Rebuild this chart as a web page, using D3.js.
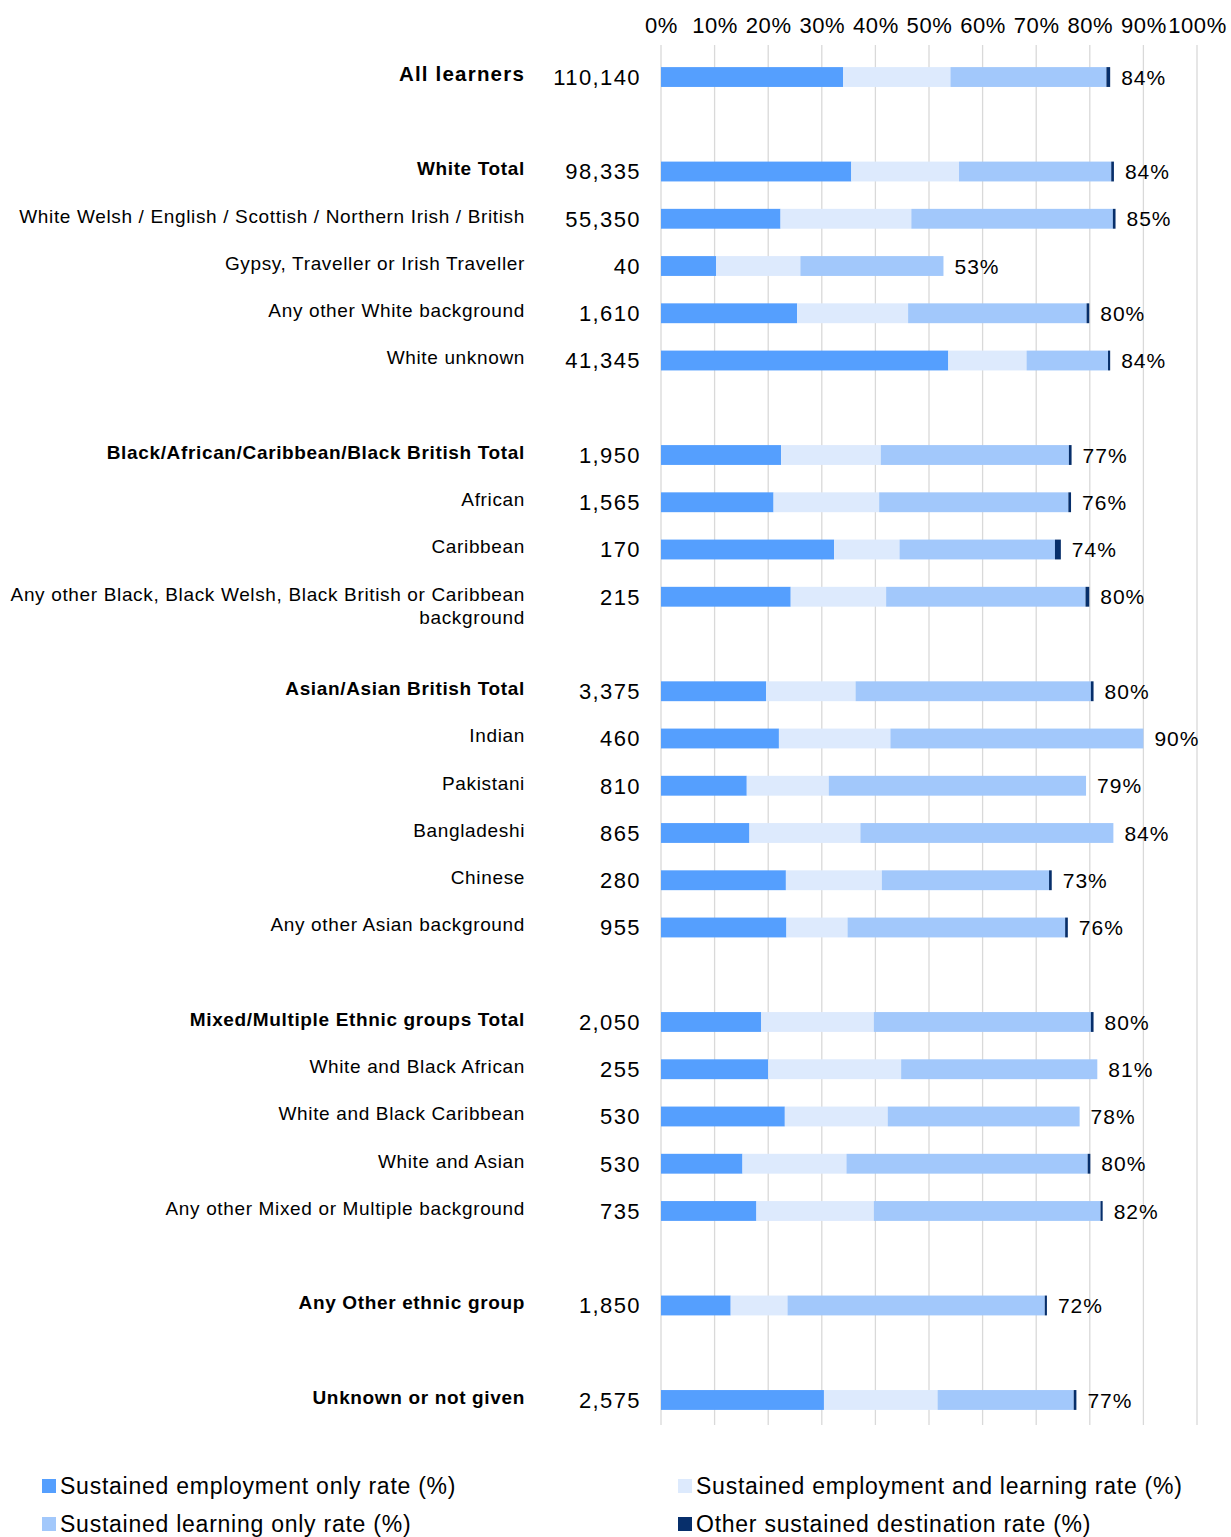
<!DOCTYPE html>
<html>
<head>
<meta charset="utf-8">
<script src="https://cdn.jsdelivr.net/npm/d3@7"></script>
<style>
  body { margin: 0; background: #fff; }
  text { font-family: "Liberation Sans", Arial, sans-serif; fill: #000; }
</style>
</head>
<body>
<div id="chart"></div>
<script>
// rows in order; blank strings are spacer rows
const categories = [
  'All learners', '',
  'White Total', 'White Welsh / English / Scottish / Northern Irish / British',
  'Gypsy, Traveller or Irish Traveller', 'Any other White background', 'White unknown', '',
  'Black/African/Caribbean/Black British Total', 'African', 'Caribbean',
  'Any other Black, Black Welsh, Black British or Caribbean background', '',
  'Asian/Asian British Total', 'Indian', 'Pakistani', 'Bangladeshi', 'Chinese',
  'Any other Asian background', '',
  'Mixed/Multiple Ethnic groups Total', 'White and Black African', 'White and Black Caribbean',
  'White and Asian', 'Any other Mixed or Multiple background', '',
  'Any Other ethnic group', '',
  'Unknown or not given',
];
const boldRows = ['All learners', 'White Total', 'Black/African/Caribbean/Black British Total',
  'Asian/Asian British Total', 'Mixed/Multiple Ethnic groups Total', 'Any Other ethnic group',
  'Unknown or not given'];
const counts = ['110,140', '', '98,335', '55,350', '40', '1,610', '41,345', '',
  '1,950', '1,565', '170', '215', '', '3,375', '460', '810', '865', '280', '955', '',
  '2,050', '255', '530', '530', '735', '', '1,850', '', '2,575'];

const employmentOnly = [34, null, 35.5, 22.3, 10.3, 25.4, 53.6, null,
  22.4, 21, 32.3, 24.2, null, 19.6, 22, 16, 16.5, 23.3, 23.4, null,
  18.7, 20, 23.1, 15.2, 17.8, null, 13, null, 30.4];
const employmentLearning = [20, null, 20.1, 24.4, 15.7, 20.7, 14.6, null,
  18.6, 19.7, 12.2, 17.8, null, 16.7, 20.8, 15.3, 20.7, 17.9, 11.4, null,
  21, 24.8, 19.2, 19.4, 21.9, null, 10.6, null, 21.2];
const learningOnly = [29.1, null, 28.4, 37.6, 26.7, 33.3, 15.2, null,
  35.1, 35.3, 29, 37.2, null, 43.9, 47.2, 48, 47.2, 31.2, 40.6, null,
  40.5, 36.6, 35.8, 45, 42.3, null, 48, null, 25.4];
const otherDestination = [0.7, null, 0.5, 0.5, 0, 0.5, 0.4, null,
  0.5, 0.5, 1.1, 0.7, null, 0.5, 0, 0, 0, 0.5, 0.5, null,
  0.5, 0, 0, 0.5, 0.4, null, 0.4, null, 0.5];
const totalLabels = ['84%', '', '84%', '85%', '53%', '80%', '84%', '',
  '77%', '76%', '74%', '80%', '', '80%', '90%', '79%', '84%', '73%', '76%', '',
  '80%', '81%', '78%', '80%', '82%', '', '72%', '', '77%'];

const seriesNames = ['Sustained employment only rate (%)', 'Sustained employment and learning rate (%)',
  'Sustained learning only rate (%)', 'Other sustained destination rate (%)'];
const seriesColors = ['#559ffe', '#ddeafd', '#a2c8fb', '#072f6b'];
const xTicks = [0, 10, 20, 30, 40, 50, 60, 70, 80, 90, 100];

const width = 1231;
const height = 1537;

const rows = categories.map((c, i) => ({
  key: 'r' + i,
  name: c,
  count: counts[i],
  label: totalLabels[i],
  vals: [employmentOnly[i], employmentLearning[i], learningOnly[i], otherDestination[i]],
}));

const xScale = d3.scaleLinear().domain([0, 100]).range([661, 1197]);
const yScale = d3.scaleBand()
    .domain(rows.map((d) => d.key))
    .range([53.4, 1423.6])
    .paddingInner(0.58)
    .paddingOuter(0.29);

const svg = d3.select('#chart')
    .append('svg')
    .attr('width', width)
    .attr('height', height);

// gridlines
svg.append('g')
    .selectAll('line')
    .data(xTicks)
    .enter()
    .append('line')
    .attr('x1', (d) => xScale(d))
    .attr('x2', (d) => xScale(d))
    .attr('y1', 45)
    .attr('y2', 1425)
    .attr('stroke', '#d9d9d9')
    .attr('stroke-width', 1.3);

// top axis labels
const xAxis = svg.append('g')
    .attr('transform', 'translate(0, 36)')
    .call(d3.axisTop(xScale).tickValues(xTicks).tickFormat((d) => d + '%').tickSize(0));
xAxis.select('.domain').remove();
xAxis.selectAll('text')
    .style('font-size', '22px')
    .style('letter-spacing', '0.6px')
    .style('font-family', '"Liberation Sans", Arial, sans-serif')
    .attr('fill', '#000')
    .attr('dy', 0);

const dataRows = rows.filter((d) => d.name !== '');

// stacked bars
const stackData = dataRows.map((d) => {
  let x0 = 0;
  return d.vals.map((v, j) => {
    const seg = {key: d.key, j: j, x0: x0, x1: x0 + v};
    x0 += v;
    return seg;
  });
}).flat().filter((s) => s.x1 > s.x0);

svg.append('g')
    .selectAll('rect')
    .data(stackData)
    .enter()
    .append('rect')
    .attr('x', (d) => xScale(d.x0))
    .attr('y', (d) => yScale(d.key))
    .attr('width', (d) => xScale(d.x1) - xScale(d.x0))
    .attr('height', yScale.bandwidth())
    .attr('fill', (d) => seriesColors[d.j]);

// total labels at end of bar
svg.append('g')
    .selectAll('text')
    .data(dataRows)
    .enter()
    .append('text')
    .attr('x', (d) => xScale(d3.sum(d.vals)) + 11)
    .attr('y', (d) => yScale(d.key) + yScale.bandwidth() / 2)
    .attr('dy', '0.36em')
    .style('font-size', '21px')
    .style('letter-spacing', '1px')
    .text((d) => d.label);

// counts
svg.append('g')
    .selectAll('text')
    .data(dataRows)
    .enter()
    .append('text')
    .attr('x', 641)
    .attr('y', (d) => yScale(d.key) + yScale.bandwidth() / 2)
    .attr('dy', '0.36em')
    .attr('text-anchor', 'end')
    .style('font-size', '22px')
    .style('letter-spacing', '1.4px')
    .text((d) => d.count);

// category labels (wrap the long one)
const catLabels = svg.append('g')
    .selectAll('text')
    .data(dataRows)
    .enter()
    .append('text')
    .attr('x', 525)
    .attr('y', (d) => yScale(d.key) + yScale.bandwidth() / 2 - 3)
    .attr('dy', '0.36em')
    .attr('text-anchor', 'end')
    .style('font-size', (d) => d.name === 'All learners' ? '20.5px' : '19px')
    .style('letter-spacing', (d) => d.name === 'All learners' ? '1.2px' : '0.65px')
    .style('font-weight', (d) => boldRows.includes(d.name) ? 'bold' : 'normal');

catLabels.each(function(d) {
  const t = d3.select(this);
  if (d.name.length > 60) {
    const cut = d.name.lastIndexOf(' ');
    t.append('tspan').attr('x', 525).text(d.name.slice(0, cut));
    t.append('tspan').attr('x', 525).attr('dy', '1.25em').text(d.name.slice(cut + 1));
  } else {
    t.text(d.name);
  }
});

// legend
const legendPos = [[42, 1486], [678, 1486], [42, 1524], [678, 1524]];
const legend = svg.append('g')
    .selectAll('g')
    .data(seriesNames)
    .enter()
    .append('g')
    .attr('transform', (d, i) => `translate(${legendPos[i][0]}, ${legendPos[i][1]})`);
legend.append('rect')
    .attr('x', 0)
    .attr('y', -7)
    .attr('width', 14)
    .attr('height', 14)
    .attr('fill', (d, i) => seriesColors[i]);
legend.append('text')
    .attr('x', 18)
    .attr('dy', '0.36em')
    .style('font-size', '23px')
    .style('letter-spacing', '0.75px')
    .text((d) => d);
</script>
</body>
</html>
